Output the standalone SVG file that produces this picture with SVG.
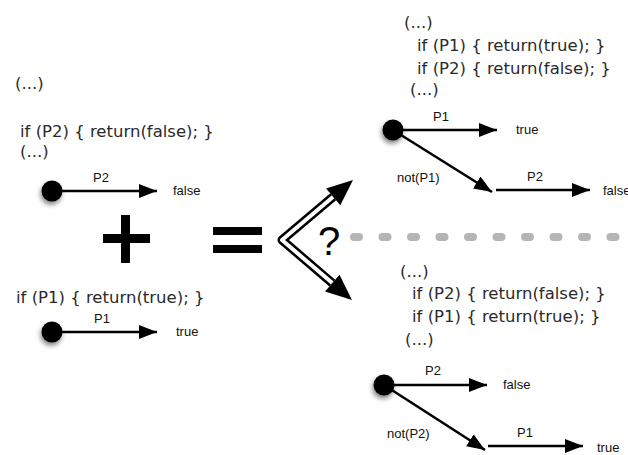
<svg xmlns="http://www.w3.org/2000/svg" width="628" height="455" viewBox="0 0 628 455">
<style>
.code{font-family:"DejaVu Sans","Open Sans",sans-serif;font-size:16.5px;fill:#2a2a2a}
.lbl{font-family:"Liberation Sans",Arial,sans-serif;font-size:13px;fill:#111}
.edge{stroke:#000;stroke-width:2.6;fill:none}
.dot{fill:#000;filter:url(#sh)}
</style>
<defs>
<filter id="sh" x="-100%" y="-100%" width="300%" height="300%">
<feDropShadow dx="-1" dy="3" stdDeviation="2.5" flood-color="#000" flood-opacity="0.5"/>
</filter>
<marker id="ah" markerUnits="userSpaceOnUse" markerWidth="20" markerHeight="16" refX="18" refY="7" orient="auto" viewBox="0 0 20 16">
<path d="M0,0 L18,7 L0,14 z" fill="#000"/>
</marker>
</defs>
<rect width="628" height="455" fill="#fff"/>

<g id="code-left-p2">
<text class="code" x="15" y="89">(...)</text>
<text class="code" x="20" y="137">if (P2) { return(false); }</text>
<text class="code" x="20" y="157">(...)</text>
</g>
<g id="code-left-p1">
<text class="code" x="16" y="303">if (P1) { return(true); }</text>
</g>
<g id="code-right-top">
<text class="code" x="404" y="28">(...)</text>
<text class="code" x="417" y="51">if (P1) { return(true); }</text>
<text class="code" x="417" y="74">if (P2) { return(false); }</text>
<text class="code" x="410" y="95">(...)</text>
</g>
<g id="code-right-bottom">
<text class="code" x="400" y="277">(...)</text>
<text class="code" x="412" y="299">if (P2) { return(false); }</text>
<text class="code" x="412" y="322">if (P1) { return(true); }</text>
<text class="code" x="405" y="345">(...)</text>
</g>

<g id="operators">
<rect x="103" y="234" width="47" height="9"/>
<rect x="121" y="215" width="9" height="48"/>
<rect x="213" y="227" width="49" height="8"/>
<rect x="213" y="245" width="49" height="8"/>
</g>

<g id="choice-arrows">
<path d="M333.2,196.8 L282,240 L332.3,283.1" fill="none" stroke="#000" stroke-width="9" stroke-linejoin="round"/>
<path d="M333.2,196.8 L282,240 L332.3,283.1" fill="none" stroke="#fff" stroke-width="4" stroke-linejoin="round"/>
<polygon points="353,180 340.3,205.2 326.1,188.4" fill="#000"/>
<polygon points="352,300 325.1,291.4 339.5,274.8" fill="#000"/>
<text x="318" y="255" font-family="Liberation Sans,Arial,sans-serif" font-size="40" fill="#000">?</text>
</g>

<g id="separator">
<line x1="354" y1="237" x2="640" y2="237" stroke="#b5b5b5" stroke-width="8" stroke-linecap="round" stroke-dasharray="5 23.5"/>
</g>

<g id="connectors">
<line class="edge" x1="52" y1="191" x2="157" y2="191" marker-end="url(#ah)"/>
<line class="edge" x1="52" y1="332" x2="157" y2="332" marker-end="url(#ah)"/>
<line class="edge" x1="393" y1="130" x2="497" y2="130" marker-end="url(#ah)"/>
<line class="edge" x1="393" y1="130" x2="492" y2="192" marker-end="url(#ah)"/>
<line class="edge" x1="496" y1="190" x2="590" y2="190" marker-end="url(#ah)"/>
<line class="edge" x1="384" y1="385" x2="487" y2="385" marker-end="url(#ah)"/>
<line class="edge" x1="384" y1="385" x2="485" y2="450" marker-end="url(#ah)"/>
<line class="edge" x1="488" y1="446" x2="583" y2="446" marker-end="url(#ah)"/>
</g>

<g id="graph-left-p2">
<circle class="dot" cx="52" cy="191" r="10.5"/>
<text class="lbl" x="93" y="182">P2</text>
<text class="lbl" x="173" y="195">false</text>
</g>
<g id="graph-left-p1">
<circle class="dot" cx="52" cy="332" r="10.5"/>
<text class="lbl" x="94" y="323">P1</text>
<text class="lbl" x="176" y="336">true</text>
</g>
<g id="graph-right-top">
<circle class="dot" cx="393" cy="130" r="10.5"/>
<text class="lbl" x="433" y="121">P1</text>
<text class="lbl" x="516" y="134">true</text>
<text class="lbl" x="397" y="182">not(P1)</text>
<text class="lbl" x="527" y="181">P2</text>
<text class="lbl" x="603" y="195">false</text>
</g>
<g id="graph-right-bottom">
<circle class="dot" cx="384" cy="385" r="10.5"/>
<text class="lbl" x="425" y="375">P2</text>
<text class="lbl" x="503" y="389">false</text>
<text class="lbl" x="387" y="438">not(P2)</text>
<text class="lbl" x="517" y="437">P1</text>
<text class="lbl" x="597" y="452">true</text>
</g>
</svg>
